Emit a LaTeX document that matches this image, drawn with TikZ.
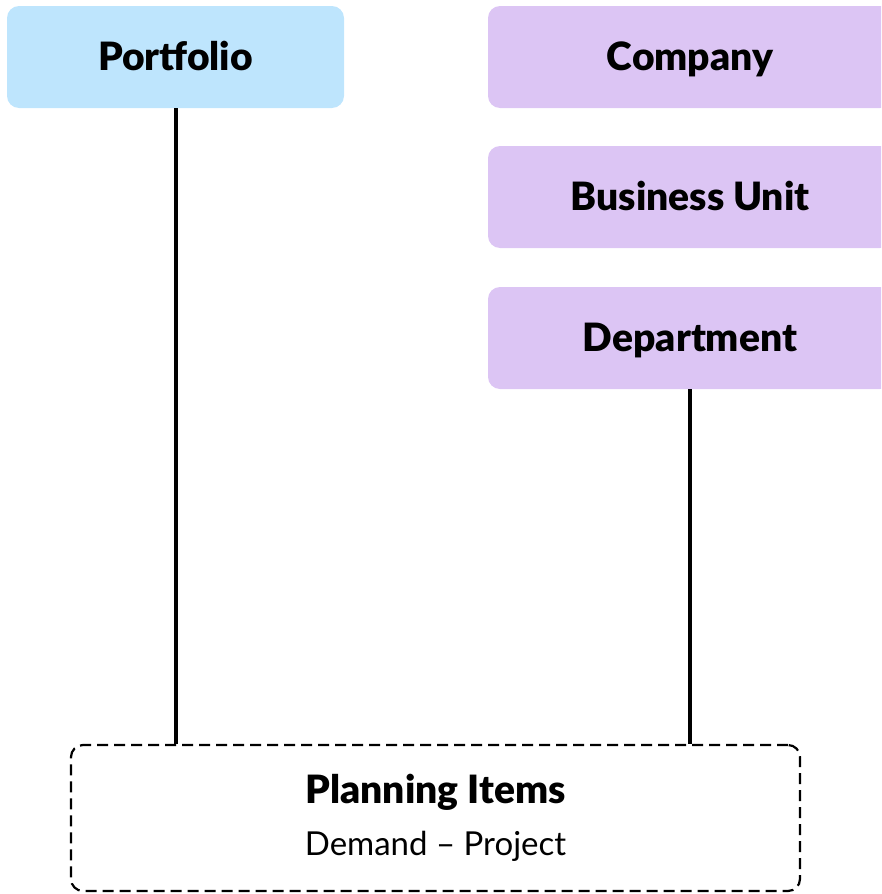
\documentclass[tikz,border=0pt]{standalone}
\usepackage{fontspec}
\setmainfont{Lato}[BoldFont=Lato Black]
\definecolor{portblue}{HTML}{BEE5FD}
\definecolor{orgpurple}{HTML}{DCC5F4}
\tikzset{
  box/.style={rectangle, rounded corners=12pt, draw=none, inner sep=0pt, minimum height=102pt, text depth=2pt, font=\fontsize{39}{44}\selectfont\bfseries},
  bluebox/.style={box, fill=portblue, minimum width=337pt},
  purplebox/.style={box, fill=orgpurple, minimum width=404pt},
  plan/.style={rectangle, rounded corners=12pt, draw=black, line width=2.2pt, dash pattern=on 11pt off 6pt, minimum width=729pt, minimum height=146pt, align=center, font=\fontsize{33}{52}\selectfont},
  link/.style={draw=black, line width=4pt}
}
\begin{document}
\begin{tikzpicture}[x=1pt,y=-1pt]
\useasboundingbox (0,0) rectangle (881,894);
\clip (0,0) rectangle (881,894);
\node[bluebox] (portfolio) at (175.5,57) {Portfolio};
\node[purplebox] (company) at (690,57) {Company};
\node[purplebox] (bu) at (690,197) {Business Unit};
\node[purplebox] (dept) at (690,338) {Department};
\node[plan] (planning) at (435.5,818) {{\fontsize{39}{52}\selectfont\bfseries Planning Items}\\Demand – Project};
\draw[link] (portfolio.south) -- (portfolio.south |- planning.north);
\draw[link] (dept.south) -- (dept.south |- planning.north);
\end{tikzpicture}
\end{document}
